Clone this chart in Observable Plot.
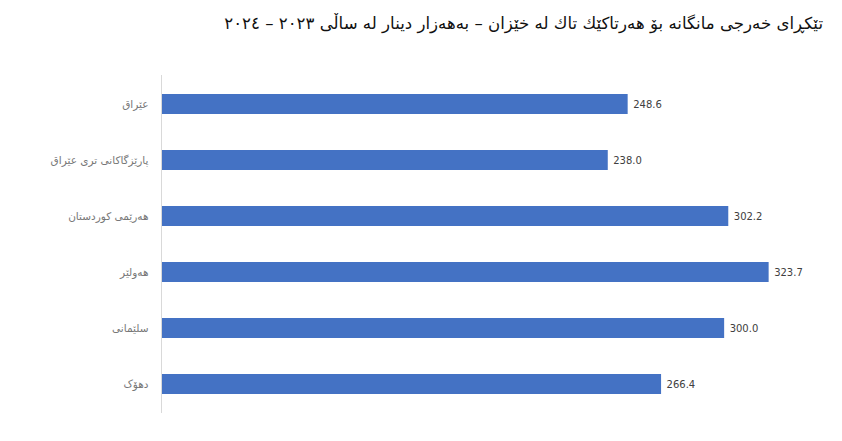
<!DOCTYPE html>
<html>
<head>
<meta charset="utf-8">
<script src="https://cdn.jsdelivr.net/npm/d3@7"></script>
<script src="https://cdn.jsdelivr.net/npm/@observablehq/plot@0.6"></script>
<style>
  html, body { margin: 0; padding: 0; background: #fff; }
  #title { height: 50px; box-sizing: border-box; padding-top: 14px; padding-right: 19px; direction: rtl; text-align: right;
    font-family: "DejaVu Sans", "Noto Sans", sans-serif; font-size: 16.6px; color: #111; }
</style>
</head>
<body>
<div id="title">تێکڕای خەرجی مانگانە بۆ هەرتاکێك تاك لە خێزان – بەهەزار دینار لە ساڵی ٢٠٢٣ – ٢٠٢٤</div>
<div id="chart"></div>
<script>
const regions = ["عێراق", "پارێزگاکانی تری عێراق", "هەرێمی کوردستان", "هەولێر", "سلێمانی", "دهۆک"];
const values = [248.6, 238.0, 302.2, 323.7, 300.0, 266.4];
const data = regions.map((r, i) => ({region: r, value: values[i]}));

const chart = Plot.plot({
  width: 842,
  height: 391,
  marginLeft: 161,
  marginRight: 24,
  marginTop: 25,
  marginBottom: 28,
  style: {fontFamily: "DejaVu Sans, Noto Sans, sans-serif", background: "#fff"},
  x: {domain: [0, 350], axis: null},
  y: {domain: regions, paddingInner: 0.645, paddingOuter: 0.3225, label: null},
  marks: [
    Plot.axisY({tickSize: 0, tickPadding: 13, fontSize: 10.5, fill: "#777", label: null}),
    Plot.barX(data, {x: "value", y: "region", fill: "#4472C4"}),
    Plot.ruleX([0], {stroke: "#d9d9d9", strokeWidth: 1}),
    Plot.text(data, {x: "value", y: "region", text: d => d.value.toFixed(1), textAnchor: "start", dx: 5, fontSize: 10, fill: "#404040"})
  ]
});
document.getElementById("chart").appendChild(chart);
</script>
</body>
</html>
